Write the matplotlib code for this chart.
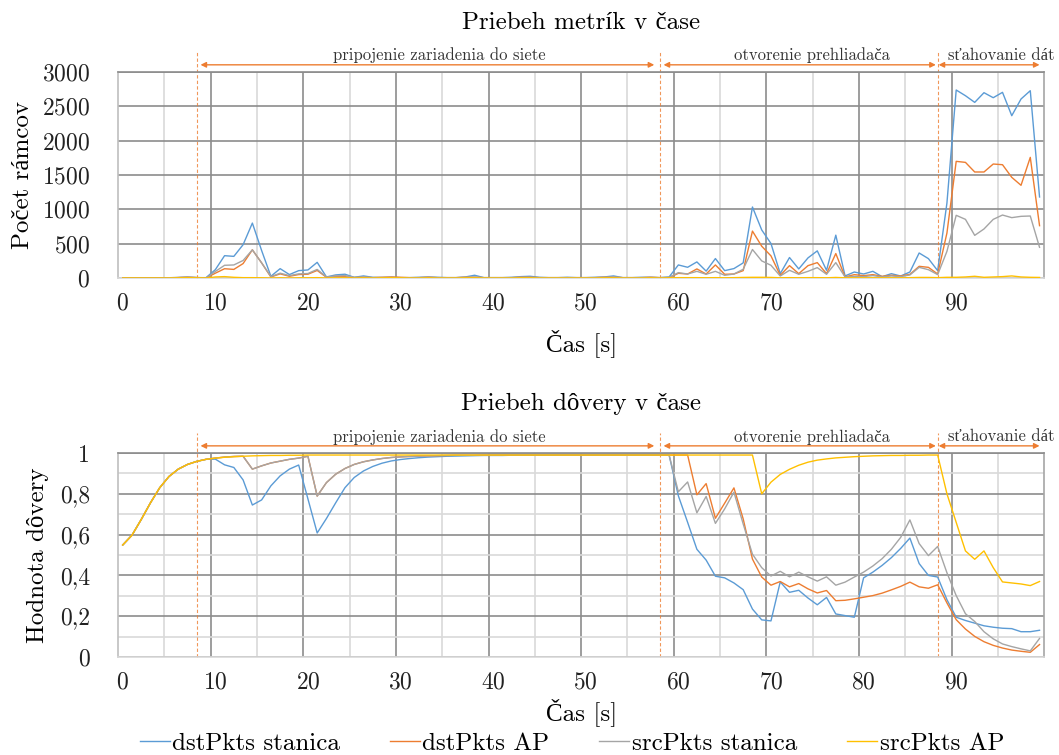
import matplotlib
matplotlib.use("Agg")
import matplotlib.pyplot as plt
import matplotlib.transforms as mtransforms

plt.rcParams['font.family'] = ['cmr10', 'Liberation Serif']
plt.rcParams['axes.formatter.use_mathtext'] = True

# ---- data ----
time_s = list(range(100))

series_names = ['dstPkts stanica', 'dstPkts AP', 'srcPkts stanica', 'srcPkts AP']
series_colors = ['#5B9BD5', '#ED7D31', '#A5A5A5', '#FFC000']

# pocet ramcov
frames_dst_sta = [0, 0, 0, 0, 0, 0, 5, 10, 5, 5,
                  121, 325, 315, 485, 800, 400, 25, 136, 50, 107,
                  117, 228, 15, 45, 55, 10, 30, 10, 5, 10,
                  5, 5, 10, 15, 10, 5, 5, 15, 40, 5,
                  5, 5, 10, 20, 25, 10, 5, 5, 10, 5,
                  5, 10, 15, 30, 5, 5, 10, 10, 5, 15,
                  190, 156, 234, 100, 283, 107, 137, 220, 1034, 700,
                  502, 63, 298, 132, 293, 395, 112, 624, 30, 87,
                  58, 97, 19, 63, 29, 87, 364, 282, 107, 1092,
                  2738, 2655, 2558, 2699, 2626, 2704, 2364, 2607, 2728, 1180]
frames_dst_ap = [0, 0, 0, 0, 0, 0, 5, 12, 5, 0,
                 70, 135, 125, 210, 410, 220, 15, 60, 25, 50,
                 55, 110, 10, 25, 20, 5, 10, 5, 10, 15,
                 10, 5, 5, 10, 5, 5, 5, 10, 10, 5,
                 5, 5, 5, 10, 10, 5, 5, 5, 5, 5,
                 5, 5, 10, 10, 5, 5, 5, 10, 5, 5,
                 68, 58, 132, 58, 190, 54, 58, 107, 683, 463,
                 322, 39, 180, 63, 180, 224, 63, 356, 15, 49,
                 34, 49, 24, 39, 29, 53, 170, 155, 58, 655,
                 1699, 1684, 1544, 1544, 1660, 1650, 1466, 1350, 1757, 762]
frames_src_sta = [0, 0, 0, 0, 0, 3, 10, 15, 8, 0,
                  95, 185, 190, 255, 410, 220, 20, 70, 35, 60,
                  65, 125, 15, 30, 35, 10, 15, 5, 10, 10,
                  5, 5, 5, 10, 5, 5, 5, 10, 15, 5,
                  5, 5, 5, 10, 10, 5, 5, 5, 5, 5,
                  5, 5, 10, 15, 5, 5, 5, 10, 5, 10,
                  78, 58, 97, 54, 97, 39, 58, 127, 415, 249,
                  185, 29, 112, 54, 97, 151, 54, 224, 15, 24,
                  20, 35, 15, 30, 20, 44, 155, 121, 49, 388,
                  913, 854, 621, 714, 854, 917, 879, 898, 903, 447]
frames_src_ap = [0, 0, 0, 0, 0, 0, 3, 5, 3, 0,
                 15, 20, 10, 5, 5, 3, 0, 3, 0, 3,
                 3, 5, 0, 3, 3, 0, 3, 0, 3, 5,
                 3, 0, 0, 3, 0, 0, 0, 3, 3, 0,
                 0, 0, 0, 3, 3, 0, 0, 0, 0, 0,
                 0, 0, 3, 3, 0, 0, 0, 3, 0, 3,
                 5, 5, 5, 3, 5, 3, 5, 8, 10, 10,
                 8, 3, 5, 3, 5, 5, 3, 8, 3, 3,
                 3, 3, 3, 3, 3, 5, 8, 8, 5, 10,
                 10, 15, 25, 10, 15, 20, 30, 15, 10, 8]

# hodnota dovery
trust_dst_sta = [0.549, 0.597, 0.674, 0.756, 0.830, 0.885, 0.921, 0.944, 0.959, 0.969,
                 0.970, 0.942, 0.929, 0.868, 0.745, 0.770, 0.839, 0.888, 0.921, 0.941,
                 0.775, 0.608, 0.679, 0.756, 0.830, 0.880, 0.912, 0.934, 0.950, 0.961,
                 0.968, 0.973, 0.977, 0.980, 0.982, 0.984, 0.985, 0.986, 0.987, 0.988,
                 0.988, 0.988, 0.989, 0.989, 0.989, 0.989, 0.989, 0.990, 0.990, 0.990,
                 0.990, 0.990, 0.990, 0.990, 0.990, 0.990, 0.990, 0.990, 0.990, 0.990,
                 0.790, 0.660, 0.528, 0.475, 0.396, 0.388, 0.363, 0.330, 0.235, 0.182,
                 0.177, 0.368, 0.317, 0.327, 0.289, 0.256, 0.292, 0.211, 0.203, 0.195,
                 0.388, 0.416, 0.449, 0.487, 0.532, 0.583, 0.458, 0.400, 0.392, 0.281,
                 0.195, 0.179, 0.166, 0.153, 0.146, 0.141, 0.139, 0.124, 0.124, 0.131]
trust_dst_ap = [0.549, 0.597, 0.674, 0.756, 0.830, 0.885, 0.921, 0.944, 0.959, 0.969,
                0.975, 0.980, 0.983, 0.984, 0.921, 0.937, 0.951, 0.960, 0.969, 0.975,
                0.984, 0.789, 0.855, 0.896, 0.924, 0.944, 0.957, 0.966, 0.973, 0.978,
                0.981, 0.983, 0.985, 0.986, 0.987, 0.988, 0.989, 0.989, 0.989, 0.990,
                0.990, 0.990, 0.990, 0.990, 0.990, 0.990, 0.990, 0.990, 0.990, 0.990,
                0.990, 0.990, 0.990, 0.990, 0.990, 0.990, 0.990, 0.990, 0.990, 0.990,
                0.990, 0.990, 0.795, 0.850, 0.680, 0.754, 0.829, 0.677, 0.480, 0.392,
                0.352, 0.370, 0.344, 0.360, 0.334, 0.314, 0.326, 0.276, 0.278, 0.285,
                0.293, 0.301, 0.313, 0.329, 0.346, 0.367, 0.344, 0.337, 0.354, 0.265,
                0.183, 0.137, 0.101, 0.075, 0.057, 0.044, 0.034, 0.028, 0.023, 0.061]
trust_src_sta = [0.549, 0.597, 0.674, 0.756, 0.830, 0.885, 0.921, 0.944, 0.959, 0.969,
                 0.975, 0.980, 0.983, 0.984, 0.921, 0.937, 0.951, 0.960, 0.969, 0.975,
                 0.984, 0.789, 0.855, 0.896, 0.924, 0.944, 0.957, 0.966, 0.973, 0.978,
                 0.981, 0.983, 0.985, 0.986, 0.987, 0.988, 0.989, 0.989, 0.989, 0.990,
                 0.990, 0.990, 0.990, 0.990, 0.990, 0.990, 0.990, 0.990, 0.990, 0.990,
                 0.990, 0.990, 0.990, 0.990, 0.990, 0.990, 0.990, 0.990, 0.990, 0.990,
                 0.810, 0.858, 0.707, 0.787, 0.655, 0.726, 0.808, 0.652, 0.504, 0.438,
                 0.397, 0.420, 0.393, 0.416, 0.393, 0.372, 0.393, 0.352, 0.367, 0.392,
                 0.416, 0.446, 0.482, 0.528, 0.586, 0.672, 0.556, 0.497, 0.542, 0.413,
                 0.301, 0.212, 0.174, 0.124, 0.089, 0.064, 0.051, 0.040, 0.030, 0.091]
trust_src_ap = [0.549, 0.597, 0.674, 0.756, 0.830, 0.885, 0.921, 0.944, 0.959, 0.969,
                0.975, 0.979, 0.982, 0.984, 0.986, 0.987, 0.988, 0.988, 0.989, 0.989,
                0.990, 0.990, 0.990, 0.990, 0.990, 0.990, 0.990, 0.990, 0.990, 0.990,
                0.990, 0.990, 0.990, 0.990, 0.990, 0.990, 0.990, 0.990, 0.990, 0.990,
                0.990, 0.990, 0.990, 0.990, 0.990, 0.990, 0.990, 0.990, 0.990, 0.990,
                0.990, 0.990, 0.990, 0.990, 0.990, 0.990, 0.990, 0.990, 0.990, 0.990,
                0.990, 0.990, 0.990, 0.990, 0.990, 0.990, 0.990, 0.990, 0.990, 0.800,
                0.857, 0.895, 0.920, 0.940, 0.955, 0.965, 0.971, 0.976, 0.979, 0.982,
                0.984, 0.986, 0.987, 0.988, 0.988, 0.989, 0.989, 0.990, 0.990, 0.800,
                0.660, 0.520, 0.479, 0.520, 0.438, 0.368, 0.363, 0.358, 0.350, 0.370]

x_ticks = [0, 10, 20, 30, 40, 50, 60, 70, 80, 90]
frames_ticks = [0, 500, 1000, 1500, 2000, 2500, 3000]
trust_ticks = [0, 0.2, 0.4, 0.6, 0.8, 1.0]
trust_ticklabels = ['0', '0,2', '0,4', '0,6', '0,8', '1']

phase_names = ['pripojenie zariadenia do siete', 'otvorenie prehliadača', 'sťahovanie dát']
phase_starts = [8, 58, 88]
phase_arrows = [(8.4, 57.4), (58.4, 87.8), (88.1, 99.0)]
phase_text_x = [34.2, 74.4, 94.9]

DARK = '#8c8c8c'
LIGHT = '#d9d9d9'
ORANGE = '#ED7D31'


def style_axes(ax):
    ax.set_xlim(-0.5, 99.5)
    for k in range(1, 20):
        xv = 5 * k - 0.5
        ax.axvline(xv, color=DARK if k % 2 == 0 else LIGHT, lw=1.2, zorder=0)
    ax.set_xticks(x_ticks)
    ax.tick_params(axis='both', length=0, labelsize=17, colors='#222222')
    ax.tick_params(axis='x', pad=10)
    ax.tick_params(axis='y', pad=20)
    ax.grid(axis='y', which='major', color=DARK, lw=1.2, zorder=0)
    ax.set_axisbelow(True)
    ax.spines['top'].set_color(DARK)
    ax.spines['right'].set_color('#a6a6a6')
    ax.spines['left'].set_color('#bfbfbf')
    ax.spines['bottom'].set_color(LIGHT)
    for s in ax.spines.values():
        s.set_linewidth(1.2)

    trans = mtransforms.blended_transform_factory(ax.transData, ax.transAxes)
    for xs in phase_starts:
        ax.plot([xs, xs], [0, 1.1], transform=trans, color=ORANGE, lw=0.8,
                ls=(0, (3, 2)), alpha=0.8, clip_on=False, zorder=1)
    for (x0, x1), name, tx in zip(phase_arrows, phase_names, phase_text_x):
        ax.annotate('', xy=(x1, 1.035), xytext=(x0, 1.035), xycoords=trans,
                    textcoords=trans,
                    arrowprops=dict(arrowstyle='<|-|>', color=ORANGE, lw=1,
                                    mutation_scale=8, shrinkA=0, shrinkB=0))
        ax.text(tx, 1.08, name, transform=trans, ha='center', va='center',
                fontsize=12, color='#333333')


fig = plt.figure(figsize=(10.59, 7.55), dpi=100)
ax1 = fig.add_axes([0.1115, 0.6318, 0.8745, 0.2728])
ax2 = fig.add_axes([0.1115, 0.1298, 0.8745, 0.2702])

for vals, col, name in zip([frames_dst_sta, frames_dst_ap, frames_src_sta, frames_src_ap],
                           series_colors, series_names):
    ax1.plot(time_s, vals, color=col, lw=1.0, label=name, zorder=3)
ax1.set_ylim(0, 3000)
ax1.set_yticks(frames_ticks)
style_axes(ax1)
ax1.set_title('Priebeh metrík v čase', fontsize=18, pad=31)
ax1.set_ylabel('Počet rámcov', fontsize=18, labelpad=6)
ax1.set_xlabel('Čas [s]', fontsize=18, labelpad=11)

for vals, col, name in zip([trust_dst_sta, trust_dst_ap, trust_src_sta, trust_src_ap],
                           series_colors, series_names):
    ax2.plot(time_s, vals, color=col, lw=1.0, label=name, zorder=3)
ax2.set_ylim(0, 1)
ax2.set_yticks(trust_ticks)
ax2.set_yticklabels(trust_ticklabels)
ax2.set_yticks([0.1, 0.3, 0.5, 0.7, 0.9], minor=True)
ax2.grid(axis='y', which='minor', color=LIGHT, lw=1.2, zorder=0)
ax2.tick_params(axis='y', which='minor', length=0)
style_axes(ax2)
ax2.set_title('Priebeh dôvery v čase', fontsize=18, pad=31)
ax2.set_ylabel('Hodnota dôvery', fontsize=18, labelpad=8)
ax2.set_xlabel('Čas [s]', fontsize=18, labelpad=4)

handles, labels = ax2.get_legend_handles_labels()
fig.legend(handles, labels, loc='lower center', bbox_to_anchor=(0.54, -0.03), ncol=4,
           frameon=False, fontsize=18, handlelength=1.2, handletextpad=0.1,
           columnspacing=2.0)

fig.savefig('out.png', dpi=100)
